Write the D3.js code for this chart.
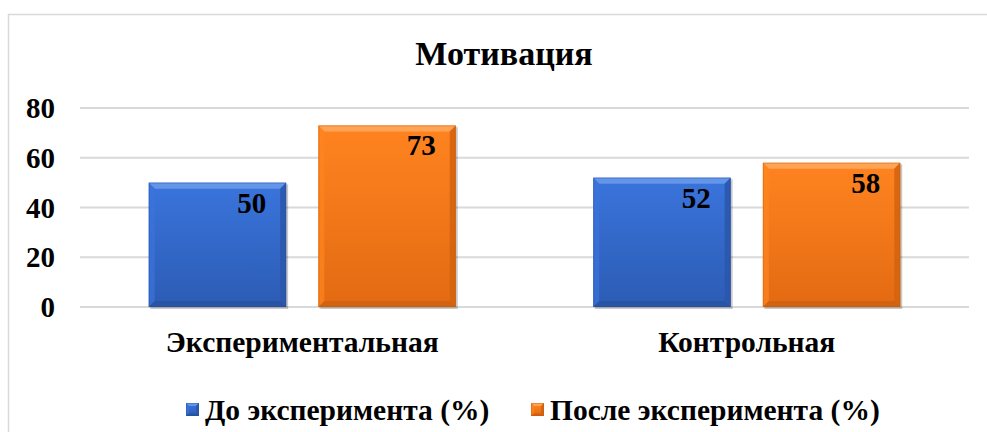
<!DOCTYPE html>
<meta charset="UTF-8">
<html>
<head>
<style>
html, body {
  margin:0;
  padding:0;
  background:#fff;
}
</style>
</head>
<body>
<svg width="987" height="432"></svg>
<script src="https://d3js.org/d3.v7.min.js"></script>
<script>
// data
var categories = ["Экспериментальная", "Контрольная"];
var seriesNames = ["До эксперимента (%)", "После эксперимента (%)"];
var before = [50, 52];
var after = [73, 58];
var yTicks = [0, 20, 40, 60, 80];
var title = "Мотивация";

var FONT = "'Liberation Serif'";

var svg = d3.select("svg"),
    width = +svg.attr("width"),
    height = +svg.attr("height");

var plot = {left: 80, right: 969, top: 108, bottom: 307};

function txt(sel, size) {
  return sel.attr("font-family", "Liberation Serif")
    .style("font-family", FONT).style("font-weight", "bold")
    .style("font-size", size + "px").attr("fill", "#000");
}

// outer frame (only left + top visible)
svg.append("path")
  .attr("d", "M8.5,432V14.5H987")
  .attr("fill", "none").attr("stroke", "#d9d9d9").attr("stroke-width", 1.5);

var x0 = d3.scaleBand().domain(categories).range([plot.left, plot.right]).paddingInner(0).paddingOuter(0);
var x1 = d3.scaleBand().domain([0, 1]).range([0, 307]).paddingInner(0.19).paddingOuter(0);
var y = d3.scaleLinear().domain([0, 80]).range([plot.bottom, plot.top]);

var palettes = [
  {top:"#3a74dc", bottom:"#2c5cb4", light:"#6e9dec", dark:"#24498f", side:"#2b58ad"},
  {top:"#ff8420", bottom:"#e36a12", light:"#ffab62", dark:"#b8560e", side:"#d5640f"}
];

var defs = svg.append("defs");
palettes.forEach(function(p, i) {
  var g = defs.append("linearGradient").attr("id", "grad" + i)
    .attr("x1", 0).attr("y1", 0).attr("x2", 0).attr("y2", 1);
  g.append("stop").attr("offset", "0%").attr("stop-color", p.top);
  g.append("stop").attr("offset", "100%").attr("stop-color", p.bottom);
});

// gridlines
svg.append("g")
  .selectAll("line").data(yTicks).enter().append("line")
  .attr("x1", plot.left).attr("x2", plot.right)
  .attr("y1", function(d) { return y(d); })
  .attr("y2", function(d) { return y(d); })
  .attr("stroke", "#d9d9d9").attr("stroke-width", 2);

// y axis labels
txt(svg.append("g").selectAll("text").data(yTicks).enter().append("text"), 29)
  .attr("x", 55)
  .attr("y", function(d) { return y(d) + 10; })
  .attr("text-anchor", "end")
  .text(function(d) { return d; });

// bevelled box
function bevelBox(g, bx, by, bw, bh, i, b, shadow) {
  var p = palettes[i];
  var gg = g.append("g");
  if (shadow) {
    gg.append("rect").attr("x", bx + 2).attr("y", by + 2).attr("width", bw).attr("height", bh)
      .attr("fill", "#000").attr("opacity", 0.12);
    gg.append("rect").attr("x", bx + 1).attr("y", by + 1).attr("width", bw + 1).attr("height", bh + 1)
      .attr("fill", "#000").attr("opacity", 0.1);
  }
  gg.append("rect").attr("x", bx).attr("y", by).attr("width", bw).attr("height", bh)
    .attr("fill", "url(#grad" + i + ")");
  // top bevel
  gg.append("path").attr("d", d3.line()([[bx, by], [bx + bw, by], [bx + bw - b, by + b], [bx + b, by + b]]))
    .attr("fill", p.light).attr("opacity", 0.8);
  // left bevel
  gg.append("path").attr("d", d3.line()([[bx, by], [bx + b, by + b], [bx + b, by + bh - b], [bx, by + bh]]))
    .attr("fill", p.top).attr("opacity", 0.7);
  // right bevel
  gg.append("path").attr("d", d3.line()([[bx + bw, by], [bx + bw, by + bh], [bx + bw - b, by + bh - b], [bx + bw - b, by + b]]))
    .attr("fill", p.side).attr("opacity", 0.9);
  // bottom bevel
  gg.append("path").attr("d", d3.line()([[bx, by + bh], [bx + bw, by + bh], [bx + bw - b, by + bh - b], [bx + b, by + bh - b]]))
    .attr("fill", p.dark).attr("opacity", 0.4);
  gg.append("rect").attr("x", bx + 0.5).attr("y", by + 0.5).attr("width", bw - 1).attr("height", bh - 1)
    .attr("fill", "none").attr("stroke", p.dark).attr("stroke-opacity", 0.35);
  return gg;
}

var groupW = 307;
var bars = svg.append("g");
categories.forEach(function(c, ci) {
  var gx = x0(c) + (x0.bandwidth() - groupW) / 2;
  [before[ci], after[ci]].forEach(function(v, si) {
    var bx = gx + x1(si), bw = x1.bandwidth();
    var by = y(v), bh = y(0) - y(v);
    bevelBox(bars, bx, by, bw, bh, si, 6, true);
    txt(bars.append("text"), 29)
      .attr("x", bx + bw - 20)
      .attr("y", by + 30)
      .attr("text-anchor", "end")
      .text(v);
  });
});

// category labels
txt(svg.append("g").selectAll("text").data(categories).enter().append("text"), 29.5)
  .attr("x", function(d) { return x0(d) + x0.bandwidth() / 2; })
  .attr("y", 352)
  .attr("text-anchor", "middle")
  .text(function(d) { return d; });

// title
txt(svg.append("text"), 34)
  .attr("x", 504).attr("y", 65)
  .attr("text-anchor", "middle")
  .text(title);

// legend
var legendX = [186, 531];
var leg = svg.append("g");
seriesNames.forEach(function(s, i) {
  bevelBox(leg, legendX[i], 403, 13, 13, i, 3, false);
  txt(leg.append("text"), 29.5)
    .attr("x", legendX[i] + 19)
    .attr("y", 420)
    .text(s);
});
</script>
</body>
</html>
